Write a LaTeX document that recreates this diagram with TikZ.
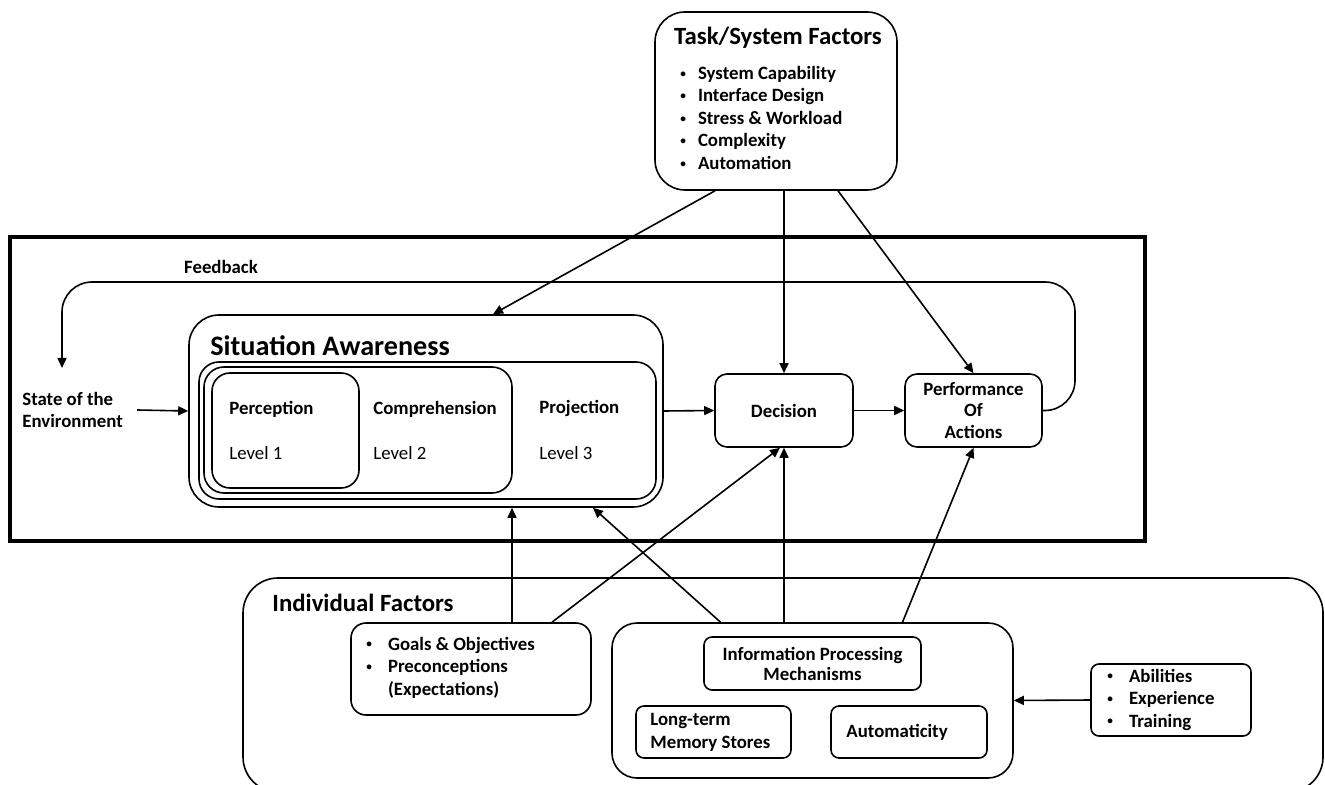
\documentclass[tikz,border=0pt]{standalone}
\usepackage{fontspec}
\setmainfont{Carlito}
\usepackage{graphicx}
\usepackage{tikz}
\usetikzlibrary{calc,arrows.meta,positioning}

\begin{document}
\begin{tikzpicture}[
        x=0.5pt, y=-0.5pt,
        >={Triangle[length=5pt,width=4.5pt]},
        % Style for the rounded boxes
        box/.style={draw, line width=0.8pt, rectangle, inner sep=0pt, align=center},
        % Style for the texts
        head/.style={font=\bfseries\fontsize{12.4}{14}\selectfont, inner sep=0pt, anchor=west},
        txt/.style={font=\bfseries\fontsize{9.4}{11.25}\selectfont, inner sep=0pt, align=left},
        lvl/.style={font=\fontsize{9.4}{11}\selectfont, inner sep=0pt, anchor=west},
        % Style for the connectors
        arr/.style={->, line width=0.8pt}
    ]
        \useasboundingbox (0,0) rectangle (1325,785);
        \def\bul{\raisebox{0.12em}{\scalebox{0.6}{\textbullet}}}

        % 1. Task/System factors on top
        \node[box, rounded corners=15pt, minimum width=121pt, minimum height=89pt] (task) at (776,101) {};
        \node[head, anchor=center] (tasktitle) at (778,38) {Task/System Factors};
        \node[txt, anchor=west] (tasklist) at (680,120) {\begin{tabular}{@{}l@{\hspace{6pt}}l@{}}
            \bul & System Capability\\
            \bul & Interface Design\\
            \bul & Stress \& Workload\\
            \bul & Complexity\\
            \bul & Automation\end{tabular}};

        % 2. The thick frame and the state of the environment
        \draw[line width=2pt] (10,237) rectangle (1145,541);
        \node[txt, anchor=west] (env) at (22,410) {State of the\\Environment};
        \node[txt] (fblabel) at (221,267) {Feedback};

        % 3. Situation awareness with its three levels
        \node[box, rounded corners=15pt, minimum width=237pt, minimum height=96pt] (sa) at (426,411) {};
        \node[box, rounded corners=10pt, minimum width=228.5pt, minimum height=68.5pt] (proj) at (427.5,430.5) {};
        \node[box, rounded corners=10pt, minimum width=154pt, minimum height=63pt] (comp) at (358,430) {};
        \node[box, rounded corners=9pt, minimum width=73.5pt, minimum height=57.5pt] (perc) at (285.5,430.5) {};
        \node[head, font=\bfseries\fontsize{14.1}{16}\selectfont] (satitle) at (210,346) {Situation Awareness};
        \node[txt, anchor=west] (perctxt) at (229,409) {Perception};
        \node[lvl] (perclvl) at (229,453) {Level 1};
        \node[txt, anchor=west] (comptxt) at (373,409) {Comprehension};
        \node[lvl] (complvl) at (373,453) {Level 2};
        \node[txt, anchor=west] (projtxt) at (539,408) {Projection};
        \node[lvl] (projlvl) at (539,453) {Level 3};

        % 4. Decision and performance
        \node[box, txt, align=center, rounded corners=6pt, minimum width=69pt, minimum height=36.5pt] (dec) at (784,410.5) {Decision};
        \node[box, txt, align=center, rounded corners=6pt, minimum width=68.5pt, minimum height=36.5pt, font=\bfseries\fontsize{9.4}{10.75}\selectfont] (perf) at (973.5,410.5) {Performance\\Of\\Actions};

        % 5. Individual factors at the bottom
        \node[box, rounded corners=17.5pt, minimum width=540pt, minimum height=107pt] (indiv) at (783,685) {};
        \node[head] (indivtitle) at (272,603) {Individual Factors};
        \node[box, rounded corners=7.5pt, minimum width=120pt, minimum height=46pt] (goals) at (471,669) {};
        \node[txt, anchor=west] (goalslist) at (366,668) {\begin{tabular}{@{}l@{\hspace{8pt}}l@{}}
            \bul & Goals \& Objectives\\
            \bul & Preconceptions\\
             & (Expectations)\end{tabular}};
        \node[box, rounded corners=12.5pt, minimum width=200.5pt, minimum height=77.5pt] (ipm) at (812.5,700.5) {};
        \node[box, txt, align=center, rounded corners=4pt, minimum width=108.5pt, minimum height=26.5pt, font=\bfseries\fontsize{9.4}{10}\selectfont] (info) at (812.5,663.5) {Information Processing\\Mechanisms};
        \node[box, rounded corners=4pt, minimum width=77.5pt, minimum height=26pt] (ltm) at (713.5,732) {};
        \node[txt, anchor=west, font=\bfseries\fontsize{9.4}{11.5}\selectfont] (ltmtxt) at (650,732) {Long-term\\Memory Stores};
        \node[box, rounded corners=4pt, minimum width=78pt, minimum height=26pt] (auto) at (909,732) {};
        \node[txt, anchor=west] (autotxt) at (846,732) {Automaticity};
        \node[box, rounded corners=4pt, minimum width=80pt, minimum height=36pt] (abil) at (1171,700) {};
        \node[txt, anchor=west] (abillist) at (1107,700) {\begin{tabular}{@{}l@{\hspace{8pt}}l@{}}
            \bul & Abilities\\
            \bul & Experience\\
            \bul & Training\end{tabular}};

        % 6. Connectors
        \coordinate (fbend) at (62,368);
        \draw[arr, rounded corners=15pt] (perf.east) -| (1075,282) -| (fbend);
        \draw[arr] ([xshift=7pt]env.east) -- (sa.west);
        \draw[arr] (sa.east) -- (dec.west);
        \draw[arr] (dec.east) -- (perf.west);
        % task/system factors
        \draw[arr] ([xshift=-30.5pt]task.south) -- ([xshift=33.5pt]sa.north);
        \draw[arr] (task.south -| dec.north) -- (dec.north);
        \draw[arr] ([xshift=31pt]task.south) -- (perf.north);
        % goals
        \draw[arr] ([xshift=20.5pt]goals.north) -- ([xshift=20.5pt]goals.north |- sa.south);
        \draw[arr] ([xshift=40.5pt]goals.north) -- ([xshift=-2pt]dec.south);
        % information processing
        \draw[arr] ([xshift=-46pt]ipm.north) -- ([xshift=83.5pt]sa.south);
        \draw[arr] (dec.south |- ipm.north) -- (dec.south);
        \draw[arr] ([xshift=45pt]ipm.north) -- (perf.south);
        % abilities
        \draw[arr] (abil.west) -- (ipm.east);

    \end{tikzpicture}
\end{document}
